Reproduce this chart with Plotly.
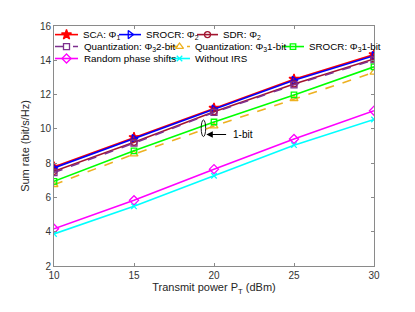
import plotly.graph_objects as go

# ---------------- data ----------------
power_dbm = [10, 15, 20, 25, 30]
sca_phi1 = [7.78, 9.50, 11.21, 12.90, 14.33]
srocr_phi2 = [7.72, 9.44, 11.15, 12.83, 14.27]
sdr_phi2 = [7.52, 9.22, 11.00, 12.62, 14.08]
quant_2bit = [7.45, 9.17, 10.96, 12.57, 14.02]
quant_1bit = [6.74, 8.53, 10.16, 11.75, 13.30]
srocr_1bit = [6.94, 8.72, 10.40, 11.98, 13.62]
random_phase = [4.17, 5.83, 7.65, 9.41, 11.06]
without_irs = [3.87, 5.48, 7.26, 9.05, 10.55]

x_ticks = [10, 15, 20, 25, 30]
y_ticks = [2, 4, 6, 8, 10, 12, 14, 16]

names = ["SCA: Φ<sub>1</sub>", "SROCR: Φ<sub>2</sub>", "SDR: Φ<sub>2</sub>",
         "Quantization: Φ<sub>3</sub>2-bit", "Quantization: Φ<sub>3</sub>1-bit",
         "SROCR: Φ<sub>3</sub>1-bit", "Random phase shifts", "Without IRS"]
series = [sca_phi1, srocr_phi2, sdr_phi2, quant_2bit, quant_1bit, srocr_1bit,
          random_phase, without_irs]

# ---------------- styles ----------------
styles = [
    dict(color="#FF0000", dash="solid", symbol="star", size=7.5),
    dict(color="#0000FF", dash="solid", symbol="triangle-right-open", size=7),
    dict(color="#A2142F", dash="solid", symbol="circle-open", size=6),
    dict(color="#7E2F8E", dash="dash", symbol="square-open", size=6),
    dict(color="#EDB120", dash="dash", symbol="triangle-up-open", size=7),
    dict(color="#00FF00", dash="solid", symbol="square-open", size=5.5),
    dict(color="#FF00FF", dash="solid", symbol="diamond-open", size=7),
    dict(color="#00FFFF", dash="solid", symbol="x-thin-open", size=5.5),
]

# page has an 8px body margin
PAGE_OFF = 8
W, H = 399, 296
# desired plot area in page pixels
PL, PR, PT, PB = 54, 374, 23, 274
L = PL - PAGE_OFF
R = W + PAGE_OFF - PR
T = PT - PAGE_OFF
B = H + PAGE_OFF - PB

def px_x(p):
    return (p - PL) / (PR - PL)

def px_y(p):
    return (PB - p) / (PB - PT)

# legend layout (page pixel positions)
leg_rows = [32, 44.5, 57]
leg_items = [  # (row, line start, line end, text start)
    (0, 55, 78, 81), (0, 119, 141, 144), (0, 197, 218, 221),
    (1, 55, 78, 82), (1, 169, 190, 193), (1, 282, 304, 307),
    (2, 55, 78, 82), (2, 169, 190, 193),
]

fig = go.Figure()

for nm, ys, st in zip(names, series, styles):
    fig.add_trace(go.Scatter(
        x=power_dbm, y=ys, mode="lines+markers", name=nm, showlegend=False,
        line=dict(color=st["color"], width=1.6, dash=st["dash"]),
        marker=dict(symbol=st["symbol"], size=st["size"], color=st["color"],
                    line=dict(color=st["color"], width=1.3)),
    ))

# custom legend drawn on an overlay axis spanning the plot area
for nm, st, (row, x0, x1, xt) in zip(names, styles, leg_items):
    yy = px_y(leg_rows[row])
    fig.add_trace(go.Scatter(
        x=[px_x(x0), px_x(x1)], y=[yy, yy], mode="lines", xaxis="x2", yaxis="y2",
        showlegend=False, hoverinfo="skip",
        line=dict(color=st["color"], width=1.6, dash="dash" if st["dash"] == "dash" else "solid"),
    ))
    fig.add_trace(go.Scatter(
        x=[px_x((x0 + x1) / 2)], y=[yy], mode="markers", xaxis="x2", yaxis="y2",
        showlegend=False, hoverinfo="skip",
        marker=dict(symbol=st["symbol"], size=st["size"], color=st["color"],
                    line=dict(color=st["color"], width=1.3)),
    ))
    fig.add_annotation(x=px_x(xt), y=yy, xref="x2", yref="y2", text=nm,
                       showarrow=False, xanchor="left", yanchor="middle",
                       font=dict(size=9.8, color="#000000"))

# ellipse + arrow annotation
fig.add_shape(type="circle", xref="x", yref="y", x0=19.2, x1=19.48, y0=9.55, y1=10.52,
              line=dict(color="#000000", width=0.9))
fig.add_annotation(x=19.52, y=9.67, ax=20.85, ay=9.67, xref="x", yref="y",
                   axref="x", ayref="y", text="", showarrow=True, arrowhead=2,
                   arrowsize=1.3, arrowwidth=1, arrowcolor="#000000")
fig.add_annotation(x=21.05, y=9.67, xref="x", yref="y", text="1-bit", showarrow=False,
                   xanchor="left", yanchor="middle", font=dict(size=10, color="#000000"))

axis_common = dict(showgrid=False, zeroline=False, showline=True, linecolor="#8a8a8a",
                   linewidth=1, mirror="ticks", ticks="inside", ticklen=3,
                   tickcolor="#8a8a8a", tickfont=dict(size=10, color="#333333"))

fig.update_layout(
    width=W, height=H,
    margin=dict(l=L, r=R, t=T, b=B),
    paper_bgcolor="white", plot_bgcolor="white",
    font=dict(family="Liberation Sans, Arial, sans-serif", color="#262626"),
    showlegend=False,
    xaxis=dict(range=[10, 30], tickvals=x_ticks,
               title=dict(text="Transmit power P<sub>T</sub> (dBm)", font=dict(size=11), standoff=3),
               **axis_common),
    yaxis=dict(range=[2, 16], tickvals=y_ticks,
               title=dict(text="Sum rate (bit/s/Hz)", font=dict(size=11), standoff=8),
               **axis_common),
    xaxis2=dict(overlaying="x", range=[0, 1], visible=False, fixedrange=True),
    yaxis2=dict(overlaying="y", range=[0, 1], visible=False, fixedrange=True),
)

fig.write_html("out.html")
